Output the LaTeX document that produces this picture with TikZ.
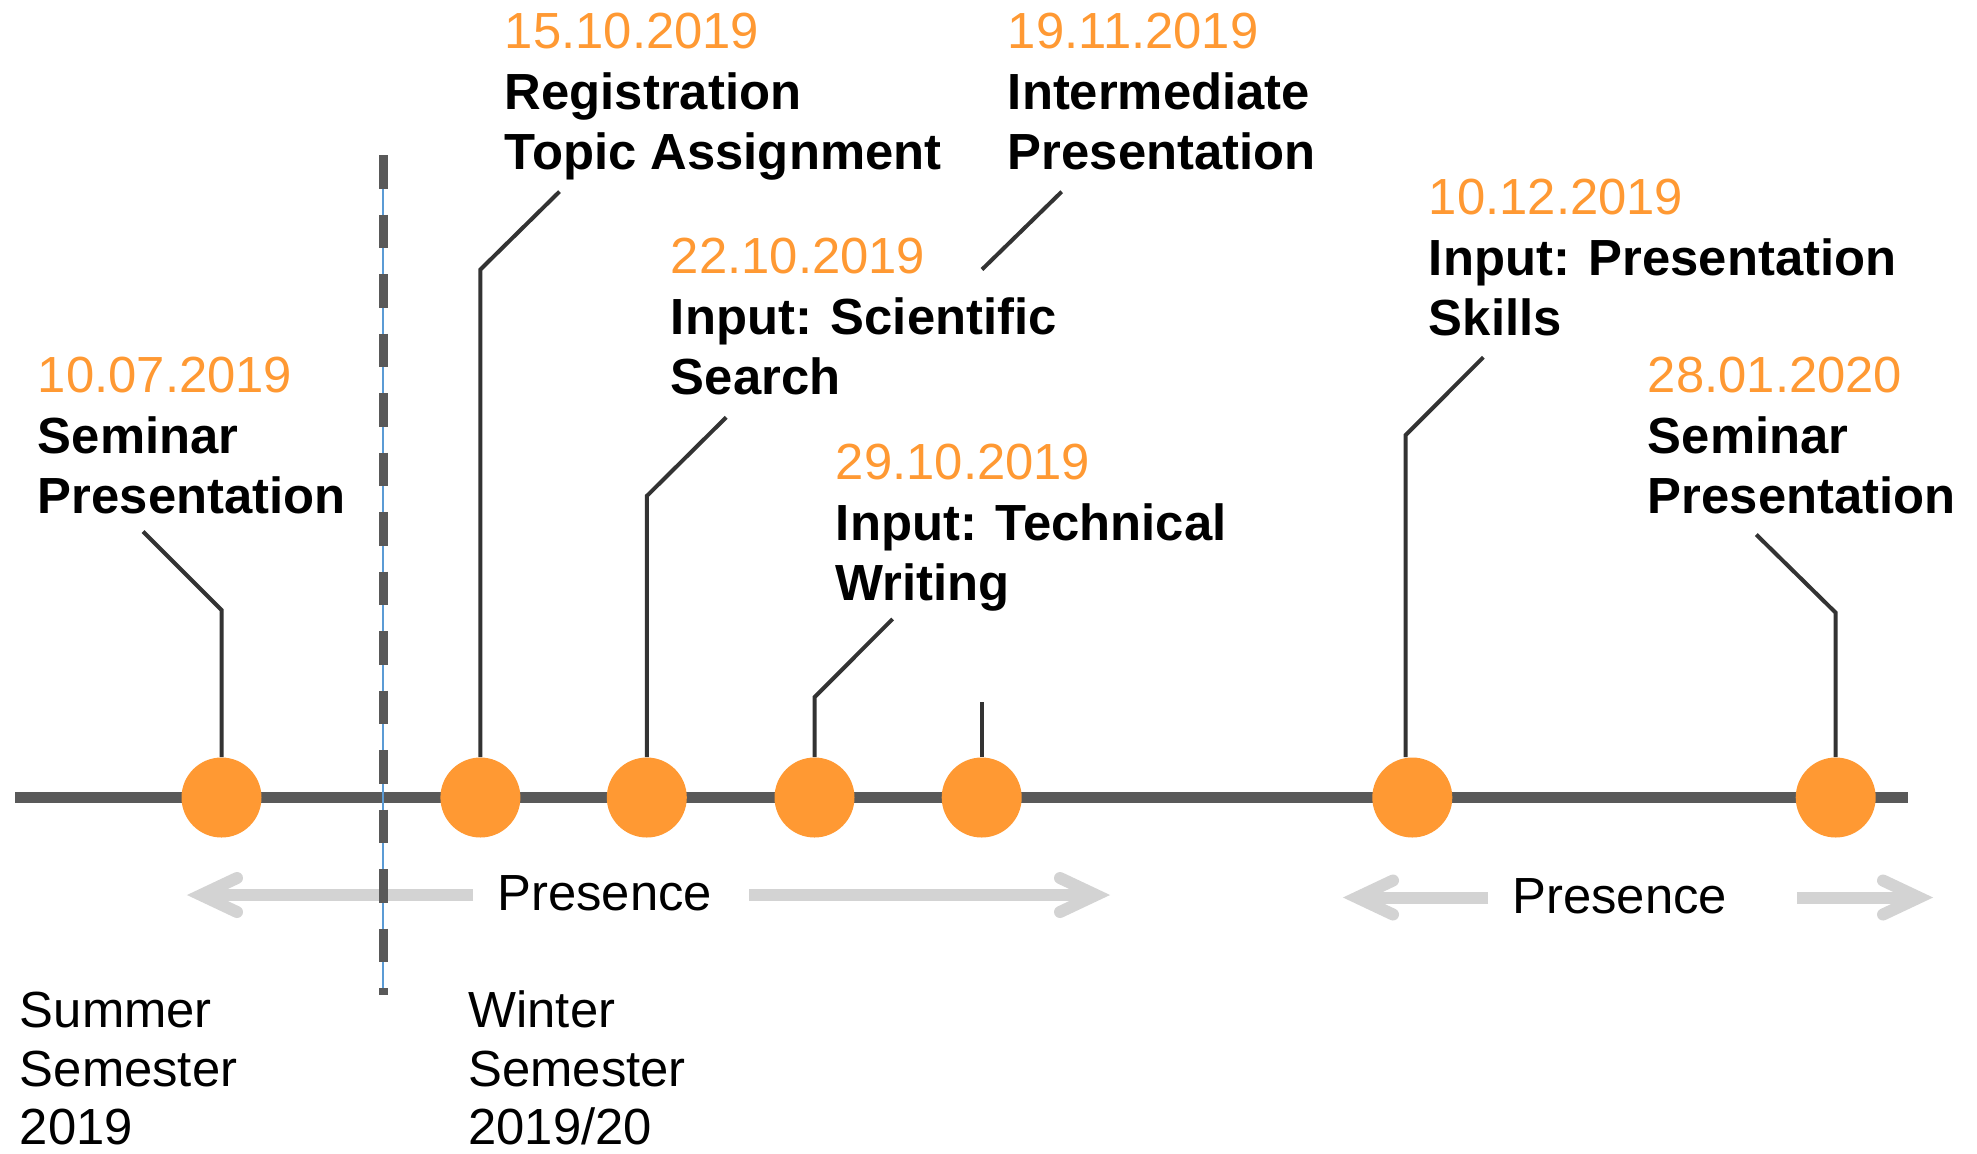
\documentclass[tikz,border=0pt]{standalone}
\usepackage{fontspec}
\setmainfont{Liberation Sans}
\usetikzlibrary{calc}
\definecolor{orng}{HTML}{FF9933}
\definecolor{axisgray}{HTML}{595959}
\definecolor{leadgray}{HTML}{333333}
\definecolor{arrgray}{HTML}{D3D3D3}
\definecolor{thinblue}{HTML}{5B9BD5}
\newcommand{\mstone}[6]{%
  \node[datetxt] (#1d) at (#2,#3) {#4};
  \node[titletxt] (#1a) at (#2,#3+61) {#5};
  \node[titletxt] (#1b) at (#2,#3+121) {#6};}
\begin{document}
\begin{tikzpicture}[x=0.5pt,y=-0.5pt,
  dot/.style={circle,fill=orng,minimum size=40pt,inner sep=0pt},
  datetxt/.style={anchor=base west,inner sep=0pt,text=orng,font=\fontsize{25.4}{30}\selectfont},
  titletxt/.style={anchor=base west,inner sep=0pt,font=\fontsize{25.4}{30}\selectfont\bfseries},
  plaintxt/.style={anchor=base west,inner sep=0pt,font=\fontsize{25.4}{30}\selectfont},
  leader/.style={draw=leadgray,line width=2pt},
  presarrow/.style={draw=arrgray,line width=6pt},
  chev/.style={draw=arrgray,line width=6pt,line cap=round,line join=miter},
]
\useasboundingbox (0,0) rectangle (1977,1153);

% main axis
\coordinate (axL) at (15,797.5);
\coordinate (axR) at (1908,797.5);
\draw[axisgray,line width=5.5pt] (axL) -- (axR);

% presence arrows
\coordinate (p1s) at (473,895);   \coordinate (p1t) at (201,895);
\coordinate (p1u) at (749,895);   \coordinate (p1v) at (1096,895);
\coordinate (p2s) at (1488,897.5); \coordinate (p2t) at (1357,897.5);
\coordinate (p2u) at (1797,897.5); \coordinate (p2v) at (1919,897.5);
\draw[presarrow] (p1s) -- (p1t);
\draw[chev] ($(p1t)+(36,-17)$) -- (p1t) -- ($(p1t)+(36,17)$);
\draw[presarrow] (p1u) -- (p1v);
\draw[chev] ($(p1v)+(-36,-17)$) -- (p1v) -- ($(p1v)+(-36,17)$);
\draw[presarrow] (p2s) -- (p2t);
\draw[chev] ($(p2t)+(36,-17)$) -- (p2t) -- ($(p2t)+(36,17)$);
\draw[presarrow] (p2u) -- (p2v);
\draw[chev] ($(p2v)+(-36,-17)$) -- (p2v) -- ($(p2v)+(-36,17)$);
\node[plaintxt] (pres1) at (497,910) {Presence};
\node[plaintxt] (pres2) at (1512,913) {Presence};

% semester divider
\coordinate (dvT) at (383,155);
\coordinate (dvB) at (383,995);
\draw[thinblue,line width=0.6pt] (dvT) -- (dvB);
\draw[axisgray,line width=4.5pt,dash pattern=on 16.75pt off 13pt] (dvT) -- (dvB);

% milestones
\node[dot] (c1) at (221.5,797.5) {};
\node[dot] (c2) at (480.4,797.5) {};
\node[dot] (c3) at (646.8,797.5) {};
\node[dot] (c4) at (814.5,797.5) {};
\node[dot] (c5) at (981.7,797.5) {};
\node[dot] (c6) at (1412.3,797.5) {};
\node[dot] (c7) at (1835.7,797.5) {};

% leaders
\coordinate (k1) at (221.5,610);  \coordinate (e1) at (143,531.5);
\coordinate (k2) at (480.4,269.5); \coordinate (e2) at (559.5,191.6);
\coordinate (k3) at (646.8,496);  \coordinate (e3) at (726.2,417.3);
\coordinate (k4) at (814.5,697.2); \coordinate (e4) at (892.6,619);
\coordinate (k5) at (981.7,701.7);
\coordinate (f5) at (982,269.5);  \coordinate (e5) at (1061.7,191.7);
\coordinate (k6) at (1405.7,435);  \coordinate (e6) at (1483.3,357.3);
\coordinate (k7) at (1835.7,612.7); \coordinate (e7) at (1756.3,534.6);
\draw[leader] (c1.north) -- (k1) -- (e1);
\draw[leader] (c2.north) -- (k2) -- (e2);
\draw[leader] (c3.north) -- (k3) -- (e3);
\draw[leader] (c4.north) -- (k4) -- (e4);
\draw[leader] (c5.north) -- (k5);
\draw[leader] (f5) -- (e5);
\draw[leader] (k6 |- c6.north) -- (k6) -- (e6);
\draw[leader] (c7.north) -- (k7) -- (e7);

% labels
\mstone{m1}{37.5}{392}{10.07.2019}{Seminar}{Presentation}
\mstone{m2}{504.5}{48}{15.10.2019}{Registration}{Topic Assignment}
\mstone{m3}{1007.5}{48}{19.11.2019}{Intermediate}{Presentation}
\mstone{m4}{670.5}{273.5}{22.10.2019}{Input: Scientific}{Search}
\mstone{m5}{835.5}{479}{29.10.2019}{Input: Technical}{Writing}
\mstone{m6}{1428.5}{214}{10.12.2019}{Input: Presentation}{Skills}
\mstone{m7}{1647.5}{392}{28.01.2020}{Seminar}{Presentation}

% semesters
\node[plaintxt] (s1a) at (19.5,1027) {Summer};
\node[plaintxt] (s1b) at (19.5,1086) {Semester};
\node[plaintxt] (s1c) at (19.5,1144) {2019};
\node[plaintxt] (s2a) at (468,1027) {Winter};
\node[plaintxt] (s2b) at (468,1086) {Semester};
\node[plaintxt] (s2c) at (468,1144) {2019/20};
\end{tikzpicture}
\end{document}
